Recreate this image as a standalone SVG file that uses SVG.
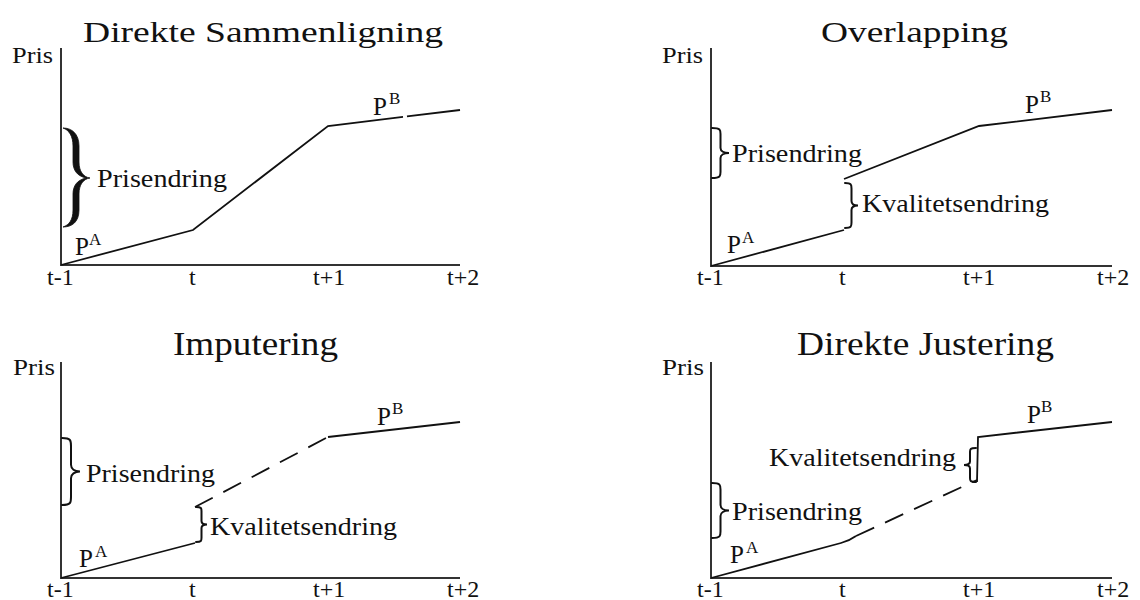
<svg xmlns="http://www.w3.org/2000/svg" width="1140" height="600" viewBox="0 0 1140 600" font-family="'Liberation Serif', Tinos, 'Times New Roman', Times, serif">
<style>
text{font-family:'Liberation Serif',Tinos,'Times New Roman',Times,serif;fill:#111}
.ttl{font-size:30px}
.ttl2{font-size:34px}
.lab{font-size:26px}
.tick{font-size:24px}
.p{font-size:25px}
.sup{font-size:17px}
.ax{stroke:#333;stroke-width:2;fill:none}
.ln{stroke:#111;stroke-width:1.8;fill:none}
.dash{stroke-dasharray:20 12}
.brace{fill:none;stroke:#111;stroke-width:2;stroke-linecap:round}
.bigbrace{fill:#111;stroke:#111;stroke-width:0.8}
</style>
<defs>
<path id="br" vector-effect="non-scaling-stroke" d="M0,0 C5,0 5,4 5,12 L5,40 C5,46 7,50 10,50 C7,50 5,54 5,60 L5,88 C5,96 5,100 0,100"/>
</defs>
<rect width="1140" height="600" fill="#fff"/>

<g id="panel-direkte-sammenligning">
<text class="ttl" x="83" y="42" textLength="360" lengthAdjust="spacingAndGlyphs">Direkte Sammenligning</text>
<text class="tick" x="12" y="63" textLength="41" lengthAdjust="spacingAndGlyphs">Pris</text>
<path class="ax" d="M61,48 L61,265 L460,265"/>
<path class="bigbrace" d="M63,128 C72,128 79,134 79,146 L79,162 C79,171 83,177 90,178 C83,179 79,185 79,194 L79,210 C79,222 72,227 63,227 C69,225 73,220 73,210 L73,194 C73,186 77,180 86,178 C77,176 73,170 73,162 L73,146 C73,136 69,130 63,128 Z"/>
<text class="lab" x="97" y="187" textLength="130" lengthAdjust="spacingAndGlyphs">Prisendring</text>
<text class="p" x="75" y="255">P</text><text class="sup" x="89" y="245">A</text>
<text class="p" x="373" y="115">P</text><text class="sup" x="389" y="104">B</text>
<text class="tick" x="47" y="285">t-1</text>
<text class="tick" x="189" y="285">t</text>
<text class="tick" x="313" y="285">t+1</text>
<text class="tick" x="447" y="285">t+2</text>
</g>

<g id="panel-overlapping">
<text class="ttl" x="821" y="42" textLength="187" lengthAdjust="spacingAndGlyphs">Overlapping</text>
<text class="tick" x="662" y="63" textLength="41" lengthAdjust="spacingAndGlyphs">Pris</text>
<path class="ax" d="M711,48 L711,266 L1112,266"/>
<use href="#br" class="brace" transform="translate(712,128) scale(1.7,0.5)"/>
<text class="lab" x="732" y="162" textLength="130" lengthAdjust="spacingAndGlyphs">Prisendring</text>
<use href="#br" class="brace" transform="translate(845,183) scale(1.3,0.45)"/>
<text class="lab" x="862" y="212" textLength="187" lengthAdjust="spacingAndGlyphs">Kvalitetsendring</text>
<text class="p" x="727" y="253">P</text><text class="sup" x="742" y="243">A</text>
<text class="p" x="1025" y="113">P</text><text class="sup" x="1040" y="102">B</text>
<text class="tick" x="697" y="285">t-1</text>
<text class="tick" x="839" y="285">t</text>
<text class="tick" x="963" y="285">t+1</text>
<text class="tick" x="1097" y="285">t+2</text>
</g>

<g id="panel-imputering">
<text class="ttl2" x="173" y="355" textLength="165" lengthAdjust="spacingAndGlyphs">Imputering</text>
<text class="tick" x="13" y="375" textLength="42" lengthAdjust="spacingAndGlyphs">Pris</text>
<path class="ax" d="M61,362 L61,578 L460,578"/>
<use href="#br" class="brace" transform="translate(62,438) scale(1.8,0.67)"/>
<text class="lab" x="86" y="482" textLength="129" lengthAdjust="spacingAndGlyphs">Prisendring</text>
<use href="#br" class="brace" transform="translate(196,507) scale(1.1,0.35)"/>
<text class="lab" x="210" y="535" textLength="187" lengthAdjust="spacingAndGlyphs">Kvalitetsendring</text>
<text class="p" x="79" y="567">P</text><text class="sup" x="95" y="557">A</text>
<text class="p" x="377" y="425">P</text><text class="sup" x="392" y="414">B</text>
<text class="tick" x="47" y="597">t-1</text>
<text class="tick" x="189" y="597">t</text>
<text class="tick" x="313" y="597">t+1</text>
<text class="tick" x="447" y="597">t+2</text>
</g>

<g id="panel-direkte-justering">
<text class="ttl2" x="797" y="355" textLength="257" lengthAdjust="spacingAndGlyphs">Direkte Justering</text>
<text class="tick" x="662" y="375" textLength="42" lengthAdjust="spacingAndGlyphs">Pris</text>
<path class="ax" d="M711,362 L711,578 L1112,578"/>
<use href="#br" class="brace" transform="translate(712,483) scale(1.7,0.55)"/>
<text class="lab" x="732" y="520" textLength="130" lengthAdjust="spacingAndGlyphs">Prisendring</text>
<use href="#br" class="brace" transform="translate(976,448) scale(-1.2,0.34)"/>
<text class="lab" x="769" y="466" textLength="187" lengthAdjust="spacingAndGlyphs">Kvalitetsendring</text>
<text class="p" x="730" y="563">P</text><text class="sup" x="746" y="553">A</text>
<text class="p" x="1027" y="423">P</text><text class="sup" x="1041" y="412">B</text>
<text class="tick" x="697" y="597">t-1</text>
<text class="tick" x="839" y="597">t</text>
<text class="tick" x="963" y="597">t+1</text>
<text class="tick" x="1097" y="597">t+2</text>
</g>

<g id="connectors">
<path class="ln" d="M61,265 L193,230 L328,126 L403,116.9"/>
<path class="ln" d="M407,116.4 L460,110"/>
<path class="ln" d="M711,266 L844,230"/>
<path class="ln" d="M844,179 L979,126 L1112,110"/>
<path class="ln" d="M61,578 L195,543"/>
<path class="ln dash" d="M195,507 L328,437"/>
<path class="ln" d="M328,437 L460,422"/>
<path class="ln" d="M711,578 L841,543 Q849,541 856,536"/>
<path class="ln dash" d="M856,536 L977,480"/>
<path class="ln" d="M977,482 L978,437 L1112,422"/>
</g>
</svg>
